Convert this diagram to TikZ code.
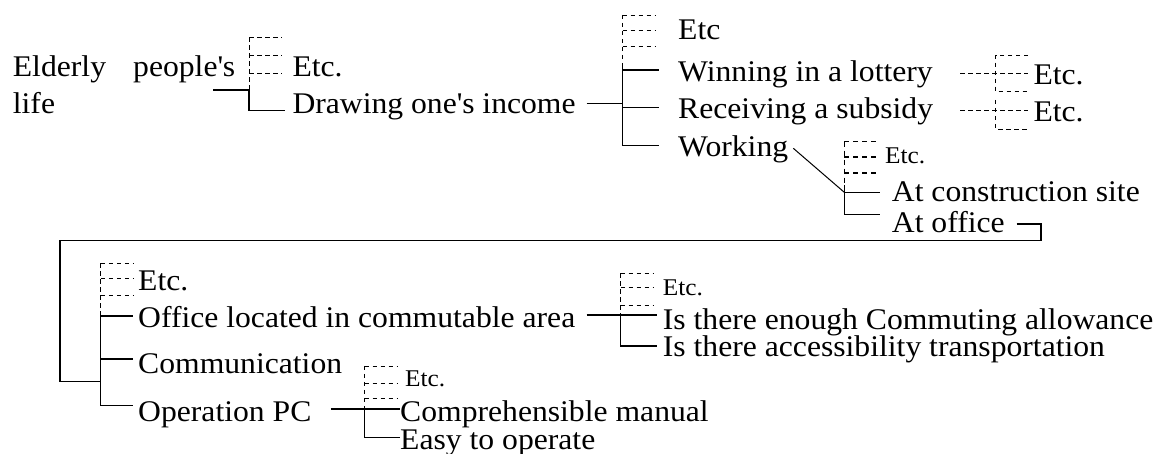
\documentclass[tikz,border=0pt]{standalone}
\usepackage{fontspec}
\setmainfont{Liberation Serif}[FakeStretch=1.055]
\newcommand{\apo}{\textquotesingle}
\begin{document}
\begin{tikzpicture}[x=1pt,y=-1pt,
  txt/.style={anchor=base west,inner sep=0pt,font=\fontsize{30}{36}\selectfont},
  stxt/.style={anchor=base west,inner sep=0pt,font=\fontsize{24}{28}\selectfont},
  ln/.style={line width=1.2pt},
  dl/.style={line width=0.9pt,dash pattern=on 4.5pt off 3.5pt},
  bdl/.style={line width=1.6pt,dash pattern=on 5pt off 4pt}]
\useasboundingbox (0,0) rectangle (1160,454);
% texts
\node[txt] (eld) at (12.7,76.7) {Elderly};
\node[txt] (peo) at (133,76.7) {people\apo s};
\node[txt] (life) at (12.7,113.3) {life};
\node[txt] (etc1) at (292.3,76.7) {Etc.};
\node[txt] (draw) at (292.3,113.3) {Drawing one\apo s income};
\node[txt] (etc2) at (678,39.3) {Etc};
\node[txt] (win) at (678,81.7) {Winning in a lottery};
\node[txt] (rec) at (678,119) {Receiving a subsidy};
\node[txt] (wor) at (678,156.7) {Working};
\node[txt] (etc3) at (1033.3,85) {Etc.};
\node[txt] (etc4) at (1033.3,121.7) {Etc.};
\node[stxt] (etc5) at (885,163.3) {Etc.};
\node[txt] (con) at (891.7,201.7) {At construction site};
\node[txt] (off) at (891.7,233) {At office};
\node[txt] (etc6) at (138,290.7) {Etc.};
\node[txt] (loc) at (138,328) {Office located in commutable area};
\node[txt] (com) at (138,373.3) {Communication};
\node[txt] (opc) at (138,421.7) {Operation PC};
\node[stxt] (etc7) at (662.7,296) {Etc.};
\node[txt] (eno) at (662.7,330) {Is there enough Commuting allowance};
\node[txt] (acc) at (662.7,356.7) {Is there accessibility transportation};
\node[stxt] (etc8) at (405,386.7) {Etc.};
\node[txt] (comp) at (400,421.7) {Comprehensible manual};
\node[txt] (easy) at (400,449) {Easy to operate};
% junctions
\coordinate (jA) at (249,90);
\coordinate (jB) at (622.7,103.3);
\coordinate (jC) at (995.7,73.3);
\coordinate (jD) at (995.7,110.7);
\coordinate (jE) at (844.3,192.3);
\coordinate (jF) at (100.8,316);
\coordinate (jG) at (620.7,315);
\coordinate (jH) at (364.6,409);
% group A
\draw[ln] (213,90) -- (jA) -- (249,110.7) -- (285,110.7);
\draw[dl] (jA) -- (249,37);
\foreach \yy in {37,55,73.3} \draw[dl] (249,\yy) -- (282,\yy);
% group B
\draw[ln] (586.7,103.3) -- (jB);
\draw[ln] (622.7,63) -- (622.7,145.7);
\foreach \yy in {70,107.3,145.7} \draw[ln] (622.7,\yy) -- (659,\yy);
\draw[dl] (622.7,15) -- (622.7,63);
\foreach \yy in {15,30.7,46.7} \draw[dl] (622.7,\yy) -- (655,\yy);
% group C, D
\draw[dl] (960,73.3) -- (jC) -- (1028,73.3);
\draw[dl] (1028,55) -- (995.7,55) -- (995.7,91.7) -- (1028,91.7);
\draw[dl] (960,110.7) -- (jD) -- (1028,110.7);
\draw[dl] (995.7,100) -- (995.7,129.3) -- (1028,129.3);
% group E
\draw[line width=1pt] (793.3,148.3) -- (jE);
\draw[ln] (844.3,185) -- (844.3,214.3) -- (880,214.3);
\draw[ln] (jE) -- (880,192.3);
\draw[bdl] (844.3,141.7) -- (844.3,185);
\foreach \yy in {141.7,157.3,173.3} \draw[bdl] (844.3,\yy) -- (880,\yy);
% group F
\draw[ln] (1016.7,224) -- (1041,224) -- (1041,240.5) -- (60,240.5) -- (60,381.7) -- (100.8,381.7);
\draw[ln] (jF) -- (100.8,405.7) -- (133,405.7);
\draw[ln] (jF) -- (133,316);
\draw[ln] (100.8,359) -- (133,359);
\draw[dl] (100.8,263.3) -- (jF);
\foreach \yy in {263.3,278.3,295} \draw[dl] (100.8,\yy) -- (133,\yy);
% group G
\draw[ln] (586.7,315) -- (jG) -- (656.7,315);
\draw[ln] (jG) -- (620.7,346) -- (656.7,346);
\draw[dl] (620.7,273.3) -- (jG);
\foreach \yy in {273.3,287.3,305} \draw[dl] (620.7,\yy) -- (653,\yy);
% group H
\draw[ln] (330.8,409) -- (jH) -- (400,409);
\draw[ln] (jH) -- (364.6,437.3) -- (400,437.3);
\draw[dl] (364.6,366) -- (jH);
\foreach \yy in {366,383.3,398.3} \draw[dl] (364.6,\yy) -- (398,\yy);
\end{tikzpicture}
\end{document}
